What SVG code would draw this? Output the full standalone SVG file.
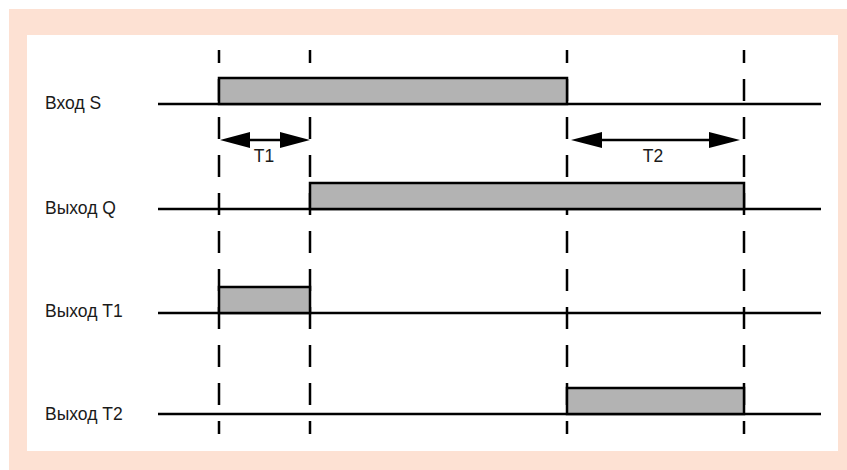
<svg xmlns="http://www.w3.org/2000/svg" width="847" height="470" viewBox="0 0 847 470">
<style>
.lbl{font-family:"Liberation Sans",Arial,sans-serif;font-size:17.5px;fill:#1a1a1a}
.base{stroke:#000;stroke-width:2.5;fill:none}
.pulse{fill:#b3b3b3;stroke:#000;stroke-width:2.5}
.dash{stroke:#000;stroke-width:2.5;stroke-dasharray:22 16;stroke-dashoffset:9;fill:none}
.arr{stroke:#000;stroke-width:2.5;fill:none}
.head{fill:#000}
</style>
<rect x="9" y="9" width="838" height="461" fill="#fde1d3"/>
<rect x="27" y="35" width="811" height="416" fill="#fff"/>
<g id="grid">
<line class="dash" x1="219" y1="50" x2="219" y2="434"/>
<line class="dash" x1="310" y1="50" x2="310" y2="434"/>
<line class="dash" x1="567" y1="50" x2="567" y2="434"/>
<line class="dash" x1="744" y1="50" x2="744" y2="434"/>
</g>
<g id="signal-s">
<line class="base" x1="158" y1="104" x2="821" y2="104"/>
<rect class="pulse" x="219" y="78" width="348" height="26"/>
<text class="lbl" x="45" y="109">Вход S</text>
</g>
<g id="signal-q">
<line class="base" x1="158" y1="209" x2="821" y2="209"/>
<rect class="pulse" x="310" y="183" width="434" height="26"/>
<text class="lbl" x="45" y="214">Выход Q</text>
</g>
<g id="signal-t1">
<line class="base" x1="158" y1="313" x2="821" y2="313"/>
<rect class="pulse" x="219" y="287" width="91" height="26"/>
<text class="lbl" x="45" y="317">Выход T1</text>
</g>
<g id="signal-t2">
<line class="base" x1="158" y1="414" x2="821" y2="414"/>
<rect class="pulse" x="567" y="388" width="177" height="26"/>
<text class="lbl" x="45" y="420">Выход T2</text>
</g>
<g id="connectors">
<line class="arr" x1="245" y1="140" x2="284" y2="140"/>
<polygon class="head" points="220,140 250,132 250,148"/>
<polygon class="head" points="310,140 280,132 280,148"/>
<text class="lbl" x="264" y="162" text-anchor="middle">T1</text>
<line class="arr" x1="597" y1="140" x2="714" y2="140"/>
<polygon class="head" points="571,140 602,132 602,148"/>
<polygon class="head" points="740,140 709,132 709,148"/>
<text class="lbl" x="653" y="162" text-anchor="middle">T2</text>
</g>
</svg>
